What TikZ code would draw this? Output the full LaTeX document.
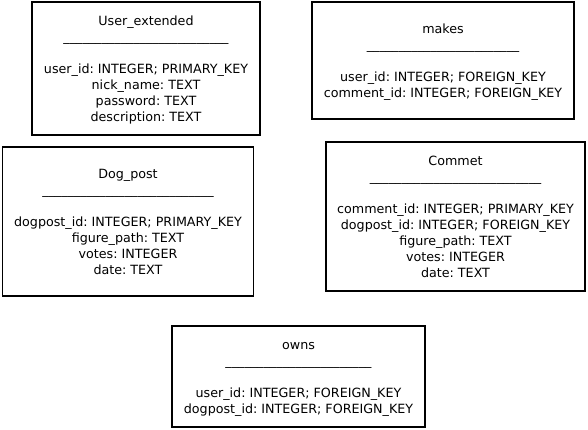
\documentclass[tikz,border=0pt]{standalone}
\usepackage{fontspec}
\setmainfont{DejaVu Sans}
\frenchspacing
\newcommand{\seprule}[1]{\foreach \k in {1,...,#1}{\_}}
\newcommand{\topstrut}{\rule{0pt}{15.2pt}}
\begin{document}
\begin{tikzpicture}[x=1pt,y=-1pt,
  tbl/.style={draw, line width=1.5pt, inner sep=0pt, align=center,
    font=\fontsize{12.7}{16}\selectfont\frenchspacing}]
\useasboundingbox (0,0) rectangle (588,430);
\node[tbl, minimum width=228pt, minimum height=133pt] (ue) at (146,68.5)
  {\topstrut User\_extended\\ \seprule{26}\\[16pt]
   user\_id: INTEGER; PRIMARY\_KEY\\ nick\_name: TEXT\\ password: TEXT\\ description: TEXT\strut};
\node[tbl, minimum width=262pt, minimum height=117pt] (mk) at (443,60.5)
  {\topstrut makes\\ \seprule{24}\\[16pt]
   user\_id: INTEGER; FOREIGN\_KEY\\ comment\_id: INTEGER; FOREIGN\_KEY\strut};
\node[tbl, minimum width=251pt, minimum height=149pt] (dp) at (128,221.5)
  {\topstrut Dog\_post\\ \seprule{27}\\[16pt]
   dogpost\_id: INTEGER; PRIMARY\_KEY\\ figure\_path: TEXT\\ votes: INTEGER\\ date: TEXT\strut};
\node[tbl, minimum width=259pt, minimum height=149pt] (cm) at (455.5,216.5)
  {\topstrut Commet\\ \seprule{27}\\[16pt]
   comment\_id: INTEGER; PRIMARY\_KEY\\ dogpost\_id: INTEGER; FOREIGN\_KEY\\ figure\_path: TEXT\\ votes: INTEGER\\ date: TEXT\strut};
\node[tbl, minimum width=253pt, minimum height=101pt] (ow) at (298.5,376.5)
  {\topstrut owns\\ \seprule{23}\\[16pt]
   user\_id: INTEGER; FOREIGN\_KEY\\ dogpost\_id: INTEGER; FOREIGN\_KEY\strut};
\end{tikzpicture}
\end{document}
